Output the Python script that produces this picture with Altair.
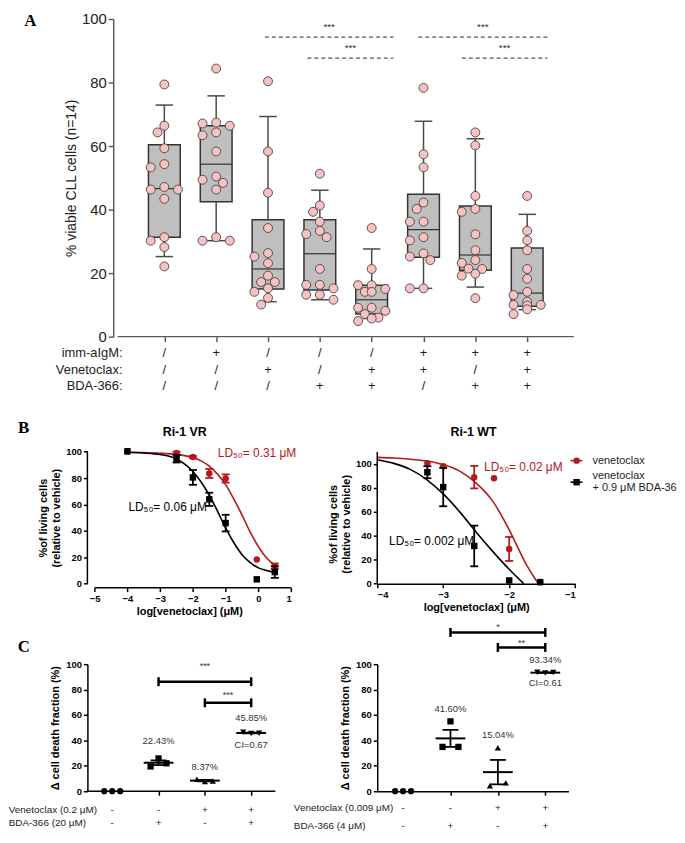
import altair as alt
import numpy as np
import pandas as pd

FONT = "Liberation Sans"
SERIF = "Liberation Serif"
RED = "#b3191e"
GREY = "#5a5a5a"
PINK = "#f9c2c2"

# ======================= DATA =======================
# ---- Panel A : % viable CLL cells (n=14) ----
A_groups = [1, 2, 3, 4, 5, 6, 7, 8]
A_values = [
    [79.4, 66.4, 64.3, 59.3, 54.3, 53.3, 47.1, 46.3, 46.3, 43.4, 31.3, 30.2, 28.2, 22.1],
    [84.4, 67.4, 67.1, 66.4, 64.3, 63.4, 58.3, 50.4, 49.4, 48.4, 46.3, 31.3, 30.2, 30.2],
    [80.4, 58.3, 45.3, 34.2, 26.3, 25.2, 23.1, 19.2, 17.2, 17.2, 15.2, 14.1, 12.2, 10.1],
    [51.3, 41.3, 39.3, 36.2, 33.3, 32.3, 31.3, 21.3, 16.3, 16.3, 15.2, 13.2, 13.2, 11.6],
    [34.2, 21.3, 16.2, 16.2, 15.0, 14.1, 14.1, 9.1, 9.1, 8.1, 7.1, 6.0, 5.7, 4.9],
    [78.3, 57.4, 53.3, 42.2, 40.2, 36.2, 36.2, 31.3, 30.3, 26.2, 25.2, 24.1, 15.2, 15.2],
    [64.3, 60.2, 44.3, 40.2, 39.3, 32.2, 27.2, 24.1, 23.2, 21.4, 21.3, 19.8, 19.2, 12.1],
    [44.3, 33.3, 30.3, 27.2, 21.3, 18.2, 14.1, 13.1, 11.0, 10.0, 10.0, 9.8, 8.6, 7.1],
]
A_q1 = [31.3, 42.5, 15.0, 14.7, 7.1, 25.0, 20.9, 9.6]
A_med = [46.6, 54.3, 21.3, 26.1, 11.6, 33.7, 25.7, 13.7]
A_q3 = [60.4, 66.4, 36.8, 36.8, 16.2, 44.8, 41.1, 27.9]
A_wlo = [25.2, 30.2, 11.0, 11.6, 5.7, 15.2, 15.6, 8.5]
A_whi = [72.9, 75.8, 69.3, 46.1, 27.6, 67.8, 62.3, 38.5]
A_imm = ["/", "+", "/", "/", "/", "+", "+", "+"]
A_ven = ["/", "/", "+", "/", "+", "+", "/", "+"]
A_bda = ["/", "/", "/", "+", "+", "/", "+", "+"]
A_rownames = ["imm-aIgM:", "Venetoclax:", "BDA-366:"]
A_row_y = [-5.2, -10.4, -15.7]
A_sig_x1 = [2.94, 3.76, 5.90, 6.74]
A_sig_x2 = [5.42, 5.42, 8.39, 8.39]
A_sig_y = [94.3, 87.7, 94.3, 87.7]
A_star_y = [97.5, 90.8, 97.5, 90.8]

# ---- Panel B : dose response ----
VR_x = [-4, -2.5, -2, -1.5, -1, -0.05, 0.5]
VR_red_y = [100.0, 99.0, 96.0, 83.5, 79.7, 18.3, 13.3]
VR_red_e = [0, 1.0, 0.8, 3.4, 3.1, 0, 2.0]
VR_blk_y = [100.3, 94.7, 80.5, 63.9, 45.9, 3.3, 8.8]
VR_blk_e = [0, 2.9, 5.6, 5.0, 6.3, 0, 4.4]
VR_red_cx = [-4, -3.5, -3, -2.5, -2, -1.75, -1.5, -1.25, -1, -0.75, -0.5, -0.25, 0, 0.25, 0.5]
VR_red_cy = [99.5, 99.3, 98.8, 97.8, 95.5, 93, 89, 83, 75, 64, 52, 39, 28, 19.5, 14]
VR_blk_cx = [-4, -3.5, -3, -2.5, -2.25, -2, -1.75, -1.5, -1.25, -1, -0.75, -0.5, -0.25, 0, 0.25, 0.5]
VR_blk_cy = [99.5, 99, 97.8, 94.5, 90.5, 85, 77, 67, 55, 42, 31, 22, 16, 12, 10, 8.5]

WT_red_x = [-3.24, -3.0, -2.53, -2.23, -2.0, -1.53]
WT_red_y = [100.6, 98.1, 89.0, 88.1, 29.0, 1.3]
WT_red_e = [0, 0, 9.4, 0, 10.0, 0]
WT_blk_x = [-3.24, -3.0, -2.53, -2.0, -1.53]
WT_blk_y = [93.1, 80.7, 31.5, 2.7, 1.3]
WT_blk_e = [5.0, 16.0, 17.0, 0, 0]
WT_red_cx = [-4, -3.75, -3.5, -3.25, -3, -2.75, -2.5, -2.25, -2, -1.75, -1.56]
WT_red_cy = [105.5, 105, 104, 102.5, 99.5, 94, 84, 69, 45, 17, 0]
WT_blk_cx = [-4, -3.75, -3.5, -3.25, -3, -2.75, -2.5, -2.25, -2, -1.78]
WT_blk_cy = [103.5, 100.5, 95.5, 87, 75, 60, 43, 27, 12, 0]

LD_text = ["LD\u2085\u2080= 0.31 \u03bcM", "LD\u2085\u2080= 0.06 \u03bcM",
           "LD\u2085\u2080= 0.02 \u03bcM", "LD\u2085\u2080= 0.002 \u03bcM"]
legend_text = ["venetoclax", "venetoclax", "+ 0.9 \u03bcM BDA-366"]

# ---- Panel C : delta cell death fraction ----
C_groups = [1, 2, 3, 4]
C_shapes = ["circle", "square", "triangle-up", "triangle-down"]
CL_vals = [[0, 0, 0], [19.5, 25.8, 22.0], [9.5, 7.6, 8.0], [46.4, 45.5, 45.65]]
CR_vals = [[0, 0, 0], [34.9, 55.0, 34.9], [4.3, 34.2, 6.6], [93.6, 93.0, 93.4]]
CL_lab_text = ["22.43%", "8.37%", "45.85%", "CI=0.67"]
CL_lab_x = [2, 3, 4, 4]
CL_lab_y = [39.7, 18.7, 57.6, 36.4]
CR_lab_text = ["41.60%", "15.04%", "93.34%", "CI=0.61"]
CR_lab_x = [2, 3, 4, 4]
CR_lab_y = [64.5, 44.2, 103.6, 85.2]
CL_sig = [(2, 4, 86.2, "***", 98.7), (3, 4, 69.6, "***", 75.9)]
CR_sig = [(2, 4, 125.0, "*", 129.0), (3, 4, 113.2, "**", 116.6)]
C_ven = ["-", "-", "+", "+"]
C_bda = ["-", "+", "-", "+"]
CL_rownames = ["Venetoclax (0.2 \u03bcM)", "BDA-366 (20 \u03bcM)"]
CL_row_y = [-15.0, -25.3]
CR_rownames = ["Venetoclax (0.009 \u03bcM)", "BDA-366 (4 \u03bcM)"]
CR_row_y = [-12.9, -27.0]


# ======================= HELPERS =======================
def swarm(vals, px_per_unit, step=7.0, diam=8.8):
    placed, offs = [], []
    for v in vals:
        yy = v * px_per_unit
        choice = 0.0
        for cand in (0.0, -step, step, -2 * step, 2 * step):
            if all((cand - ox) ** 2 + (yy - oy) ** 2 >= diam ** 2 for ox, oy in placed):
                choice = cand
                break
        placed.append((choice, yy))
        offs.append(choice)
    return offs


def txt(df, xs, ys, axx, axy, **mk):
    base = dict(font=FONT, fontSize=11, color="#222", align="center", baseline="middle")
    base.update(mk)
    return alt.Chart(df).mark_text(**base).encode(
        x=alt.X("x:Q", scale=xs, axis=axx), y=alt.Y("y:Q", scale=ys, axis=axy), text="t:N")


def hrule(df, xs, ys, axx, axy, **mk):
    return alt.Chart(df).mark_rule(**mk).encode(
        x=alt.X("x:Q", scale=xs, axis=axx), x2="x2:Q", y=alt.Y("y:Q", scale=ys, axis=axy))


def vrule(df, xs, ys, axx, axy, **mk):
    return alt.Chart(df).mark_rule(**mk).encode(
        x=alt.X("x:Q", scale=xs, axis=axx), y=alt.Y("y:Q", scale=ys, axis=axy), y2="y2:Q")


COL_W = 207          # declared width of every left-column panel
COL_GAP = 85

# ======================= PANEL A =======================
A_W, A_H = 495, 320   # drawn extent of panel A
A_SP = 53.3
A_X0 = 1 - 74 / A_SP
A_X1 = A_X0 + A_W / A_SP
A_PXU = A_H / 100.0
xsA = alt.Scale(domain=[A_X0, A_X1], range=[0, A_W], nice=False, zero=False)
ysA = alt.Scale(domain=[0, 100], nice=False, zero=False)
axA_x = alt.Axis(values=A_groups, labels=False, domain=False, ticks=True, tickSize=5,
                 tickColor=GREY, tickWidth=1.5, title=None, grid=False)
axA_y = alt.Axis(values=[0, 20, 40, 60, 80, 100], offset=-26, grid=False, domainColor=GREY,
                 domainWidth=1.5, tickColor=GREY, tickWidth=1.5, tickSize=5, labelFont=FONT,
                 labelFontSize=15, labelColor="#222", labelPadding=2,
                 title="% viable CLL cells (n=14)", titleFont=FONT, titleFontSize=14,
                 titleFontWeight="normal", titleColor="#222", titlePadding=3)

boxdf = pd.DataFrame({"x": A_groups, "q1": A_q1, "med": A_med, "q3": A_q3,
                      "lo": A_wlo, "hi": A_whi})
boxdf["ml"] = boxdf.x - 16 / A_SP
boxdf["mr"] = boxdf.x + 16 / A_SP
boxdf["cl"] = boxdf.x - 9 / A_SP
boxdf["cr"] = boxdf.x + 9 / A_SP

rows = []
for g, vals in zip(A_groups, A_values):
    for v, o in zip(vals, swarm(vals, A_PXU)):
        rows.append({"x": g + o / A_SP, "y": v})
ptsA = pd.DataFrame(rows)


def XA(f):
    return alt.X(f + ":Q", scale=xsA, axis=axA_x)


def YA(f):
    return alt.Y(f + ":Q", scale=ysA, axis=axA_y)


WH = "#4a4a4a"
A_layers = [
    alt.Chart(boxdf).mark_rule(color=WH, strokeWidth=1.5).encode(x=XA("x"), y=YA("q3"), y2="hi:Q"),
    alt.Chart(boxdf).mark_rule(color=WH, strokeWidth=1.5).encode(x=XA("x"), y=YA("lo"), y2="q1:Q"),
    alt.Chart(boxdf).mark_rule(color=WH, strokeWidth=1.5).encode(x=XA("cl"), x2="cr:Q", y=YA("hi")),
    alt.Chart(boxdf).mark_rule(color=WH, strokeWidth=1.5).encode(x=XA("cl"), x2="cr:Q", y=YA("lo")),
    alt.Chart(boxdf).mark_bar(size=32, fill="#bfbfbf", stroke="#333", strokeWidth=1.5).encode(
        x=XA("x"), y=YA("q1"), y2="q3:Q"),
    alt.Chart(boxdf).mark_rule(color="#333", strokeWidth=1.2).encode(x=XA("ml"), x2="mr:Q", y=YA("med")),
    alt.Chart(ptsA).mark_point(shape="circle", filled=False, fill=PINK, fillOpacity=1, stroke="#444",
                               strokeWidth=0.9, size=81, opacity=1).encode(x=XA("x"), y=YA("y")),
    hrule(pd.DataFrame({"x": [0.1], "x2": [A_X1], "y": [0]}), xsA, ysA, axA_x, axA_y,
          color=GREY, strokeWidth=1.5),
]
sigA = pd.DataFrame({"x": A_sig_x1, "x2": A_sig_x2, "y": A_sig_y})
A_layers.append(hrule(sigA, xsA, ysA, axA_x, axA_y, color="#555", strokeWidth=1.2, strokeDash=[4, 3]))
starA = pd.DataFrame({"x": [(a + b) / 2 for a, b in zip(A_sig_x1, A_sig_x2)], "y": A_star_y,
                      "t": ["***"] * 4})
A_layers.append(txt(starA, xsA, ysA, axA_x, axA_y, fontSize=10, color="#333"))
rowA = []
for yv, sy in zip(A_row_y, [A_imm, A_ven, A_bda]):
    for g, s in zip(A_groups, sy):
        rowA.append({"x": g, "y": yv, "t": s})
A_layers.append(txt(pd.DataFrame(rowA), xsA, ysA, axA_x, axA_y, fontSize=13))
A_layers.append(txt(pd.DataFrame({"x": [1 + (118 - 161) / A_SP] * 3, "y": A_row_y, "t": A_rownames}),
                    xsA, ysA, axA_x, axA_y, fontSize=13, align="right"))
A_layers.append(txt(pd.DataFrame({"x": [1 + (17 - 161) / A_SP], "y": [99.5], "t": ["A"]}),
                    xsA, ysA, axA_x, axA_y, font=SERIF, fontSize=17, fontWeight="bold",
                    align="left", color="black"))
A = alt.layer(*A_layers).properties(width=COL_W, height=A_H)

# ======================= PANEL B =======================
B_H = 168.4


def b_axes(values_x, x_off, yk, H, xdomain):
    axx = alt.Axis(values=values_x, domain=xdomain, domainColor="black", domainWidth=1.5,
                   offset=x_off, tickSize=4, tickColor="black", tickWidth=1.5,
                   labelFont=FONT, labelFontSize=9.5, labelFontWeight="bold", labelColor="black",
                   labelPadding=2, title="log[venetoclax] (\u03bcM)", titleFont=FONT,
                   titleFontSize=11, titleFontWeight="bold", titleColor="black", titlePadding=3,
                   grid=False)
    axy = alt.Axis(values=[0, 20, 40, 60, 80, 100], domain=False, tickSize=4, tickColor="black",
                   tickWidth=1.5, labelFont=FONT, labelFontSize=9.5, labelFontWeight="bold",
                   labelColor="black", labelPadding=2,
                   title=["%of living cells", "(relative to vehicle)"], titleFont=FONT,
                   titleFontSize=11, titleFontWeight="bold", titleColor="black", titlePadding=4,
                   titleY=H - 50 * yk, grid=False)
    return axx, axy


def series_layers(xs, ys, axx, axy, cx, cy, px, py, pe, color, shape, capw):
    cdf = pd.DataFrame({"x": cx, "y": cy})
    pdf = pd.DataFrame({"x": px, "y": py, "e": pe})
    pdf["lo"] = pdf.y - pdf.e
    pdf["hi"] = pdf.y + pdf.e
    pdf["xl"] = pdf.x - capw
    pdf["xr"] = pdf.x + capw
    edf = pdf[pdf.e > 0]
    X = lambda f: alt.X(f + ":Q", scale=xs, axis=axx)
    Y = lambda f: alt.Y(f + ":Q", scale=ys, axis=axy)
    return [
        alt.Chart(cdf).mark_line(color=color, strokeWidth=1.6, interpolate="monotone").encode(x=X("x"), y=Y("y")),
        alt.Chart(edf).mark_rule(color=color, strokeWidth=1.8).encode(x=X("x"), y=Y("lo"), y2="hi:Q"),
        alt.Chart(edf).mark_rule(color=color, strokeWidth=1.8).encode(x=X("xl"), x2="xr:Q", y=Y("hi")),
        alt.Chart(edf).mark_rule(color=color, strokeWidth=1.8).encode(x=X("xl"), x2="xr:Q", y=Y("lo")),
        alt.Chart(pdf).mark_point(shape=shape, filled=True, color=color, size=42, opacity=1).encode(
            x=X("x"), y=Y("y")),
    ]


# ---- B left : Ri-1 VR ----
BL_W = 205.3
BL_K = 33.0
BL_X0 = 1 - BL_W / BL_K
BL_YK = 1.33
xsBL = alt.Scale(domain=[BL_X0, 1], nice=False, zero=False)
ysBL = alt.Scale(domain=[0, B_H / BL_YK], nice=False, zero=False)
axBLx, axBLy = b_axes([-5, -4, -3, -2, -1, 0, 1], 4, BL_YK, B_H, False)
BL_layers = []
BL_layers += series_layers(xsBL, ysBL, axBLx, axBLy, VR_red_cx, VR_red_cy, VR_x, VR_red_y, VR_red_e,
                           RED, "circle", 4 / BL_K)
BL_layers += series_layers(xsBL, ysBL, axBLx, axBLy, VR_blk_cx, VR_blk_cy, VR_x, VR_blk_y, VR_blk_e,
                           "black", "square", 4 / BL_K)
BL_layers.append(vrule(pd.DataFrame({"x": [BL_X0], "y": [0], "y2": [100]}), xsBL, ysBL, axBLx, axBLy,
                       color="black", strokeWidth=1.5))
BL_layers.append(hrule(pd.DataFrame({"x": [-5], "x2": [1], "y": [-4 / BL_YK]}), xsBL, ysBL, axBLx, axBLy,
                       color="black", strokeWidth=1.5))
BL_layers.append(txt(pd.DataFrame({"x": [-1.24], "y": [99.0], "t": [LD_text[0]]}), xsBL, ysBL, axBLx, axBLy,
                     fontSize=12, align="left", color=RED))
BL_layers.append(txt(pd.DataFrame({"x": [-3.97], "y": [57.9], "t": [LD_text[1]]}), xsBL, ysBL, axBLx, axBLy,
                     fontSize=12, align="left", color="black"))
BL_layers.append(txt(pd.DataFrame({"x": [-2.25], "y": [114.8], "t": ["Ri-1 VR"]}), xsBL, ysBL, axBLx, axBLy,
                     fontSize=12.5, fontWeight="bold", color="black"))
BL_layers.append(txt(pd.DataFrame({"x": [-7.34], "y": [117.8], "t": ["B"]}), xsBL, ysBL, axBLx, axBLy,
                     font=SERIF, fontSize=17, fontWeight="bold", align="left", color="black"))
BL = alt.layer(*BL_layers).properties(width=BL_W, height=B_H)

# ---- B right : Ri-1 WT ----
BR_W = 199.4
BR_YK = 1.206
xsBR = alt.Scale(domain=[-4, -1], nice=False, zero=False)
ysBR = alt.Scale(domain=[0, B_H / BR_YK], nice=False, zero=False)
axBRx, axBRy = b_axes([-4, -3, -2, -1], 0, BR_YK, B_H, True)
BR_layers = []
BR_layers += series_layers(xsBR, ysBR, axBRx, axBRy, WT_red_cx, WT_red_cy, WT_red_x, WT_red_y, WT_red_e,
                           RED, "circle", 4 / 66.4)
BR_layers += series_layers(xsBR, ysBR, axBRx, axBRy, WT_blk_cx, WT_blk_cy, WT_blk_x, WT_blk_y, WT_blk_e,
                           "black", "square", 4 / 66.4)
BR_layers.append(vrule(pd.DataFrame({"x": [-4], "y": [0], "y2": [110]}), xsBR, ysBR, axBRx, axBRy,
                       color="black", strokeWidth=1.5))
BR_layers.append(txt(pd.DataFrame({"x": [-2.38], "y": [97.3], "t": [LD_text[2]]}), xsBR, ysBR, axBRx, axBRy,
                     fontSize=12, align="left", color=RED))
BR_layers.append(txt(pd.DataFrame({"x": [-3.82], "y": [35.9], "t": [LD_text[3]]}), xsBR, ysBR, axBRx, axBRy,
                     fontSize=12, align="left", color="black"))
BR_layers.append(txt(pd.DataFrame({"x": [-2.54], "y": [126.3], "t": ["Ri-1 WT"]}), xsBR, ysBR, axBRx, axBRy,
                     fontSize=12.5, fontWeight="bold", color="black"))
BR_layers.append(hrule(pd.DataFrame({"x": [-1.07], "x2": [-0.89], "y": [102.8]}), xsBR, ysBR, axBRx, axBRy,
                       color=RED, strokeWidth=1.6))
BR_layers.append(hrule(pd.DataFrame({"x": [-1.07], "x2": [-0.89], "y": [84.8]}), xsBR, ysBR, axBRx, axBRy,
                       color="black", strokeWidth=1.6))
BR_layers.append(alt.Chart(pd.DataFrame({"x": [-0.978], "y": [102.8]})).mark_point(
    shape="circle", filled=True, color=RED, size=42, opacity=1).encode(
    x=alt.X("x:Q", scale=xsBR, axis=axBRx), y=alt.Y("y:Q", scale=ysBR, axis=axBRy)))
BR_layers.append(alt.Chart(pd.DataFrame({"x": [-0.978], "y": [84.8]})).mark_point(
    shape="square", filled=True, color="black", size=42, opacity=1).encode(
    x=alt.X("x:Q", scale=xsBR, axis=axBRx), y=alt.Y("y:Q", scale=ysBR, axis=axBRy)))
BR_layers.append(txt(pd.DataFrame({"x": [-0.737] * 3, "y": [102.8, 89.8, 80.1], "t": legend_text}),
                     xsBR, ysBR, axBRx, axBRy, fontSize=11, align="left", color="#222",
                     limit=89, ellipsis="\u200b"))
BR = alt.layer(*BR_layers).properties(width=BR_W, height=B_H)

# ======================= PANEL C =======================
C_H = 128


def c_panel(W, SP, X0, X1, vals, lab_text, lab_x, lab_y, sig, rownames, row_y, name_x,
            axis_end, x_domain, letter=None):
    xs = alt.Scale(domain=[X0, X1], nice=False, zero=False)
    ys = alt.Scale(domain=[0, 100], nice=False, zero=False)
    pxu = C_H / 100.0
    axx = alt.Axis(values=[2, 3, 4], labels=False, domain=x_domain, domainColor="black",
                   domainWidth=1.5, tickSize=4, tickColor="black", tickWidth=1.5, title=None, grid=False)
    axy = alt.Axis(values=[0, 20, 40, 60, 80, 100], domain=True, domainColor="black", domainWidth=1.5,
                   tickSize=4, tickColor="black", tickWidth=1.5, labelFont=FONT, labelFontSize=9.5,
                   labelFontWeight="bold", labelColor="black", labelPadding=2,
                   title="\u0394 cell death fraction (%)", titleFont=FONT, titleFontSize=11,
                   titleFontWeight="bold", titleColor="black", titlePadding=5, grid=False)
    X = lambda f: alt.X(f + ":Q", scale=xs, axis=axx)
    Y = lambda f: alt.Y(f + ":Q", scale=ys, axis=axy)
    prow, srow = [], []
    for g, shp, vv in zip(C_groups, C_shapes, vals):
        for i, v in enumerate(vv):
            prow.append({"x": g + (i - 1) * 8 / SP, "y": v, "shp": shp})
        if g > 1:
            m = float(np.mean(vv))
            s = float(np.std(vv, ddof=1) / np.sqrt(len(vv)))
            srow.append({"x": g, "m": m, "lo": m - s, "hi": m + s,
                         "ml": g - 15 / SP, "mr": g + 15 / SP, "cl": g - 8 / SP, "cr": g + 8 / SP})
    pdf = pd.DataFrame(prow)
    sdf = pd.DataFrame(srow)
    layers = [
        alt.Chart(sdf).mark_rule(color="black", strokeWidth=1.8).encode(x=X("x"), y=Y("lo"), y2="hi:Q"),
        alt.Chart(sdf).mark_rule(color="black", strokeWidth=1.8).encode(x=X("cl"), x2="cr:Q", y=Y("hi")),
        alt.Chart(sdf).mark_rule(color="black", strokeWidth=1.8).encode(x=X("cl"), x2="cr:Q", y=Y("lo")),
        alt.Chart(pdf).mark_point(filled=True, color="black", size=40, opacity=1).encode(
            x=X("x"), y=Y("y"), shape=alt.Shape("shp:N", scale=None)),
        alt.Chart(sdf).mark_rule(color="black", strokeWidth=2).encode(x=X("ml"), x2="mr:Q", y=Y("m")),
    ]
    if axis_end is not None:
        layers.append(hrule(pd.DataFrame({"x": [X0], "x2": [axis_end], "y": [0]}), xs, ys, axx, axy,
                            color="black", strokeWidth=1.5))
    layers.append(txt(pd.DataFrame({"x": lab_x, "y": lab_y, "t": lab_text}), xs, ys, axx, axy,
                      fontSize=9.5, color="#333"))
    bars, caps, stars = [], [], []
    for x1, x2, yb, st, ys_ in sig:
        bars.append({"x": x1, "x2": x2, "y": yb})
        caps.append({"x": x1, "y": yb - 4.5 / pxu, "y2": yb + 4.5 / pxu})
        caps.append({"x": x2, "y": yb - 4.5 / pxu, "y2": yb + 4.5 / pxu})
        stars.append({"x": (x1 + x2) / 2, "y": ys_, "t": st})
    layers.append(hrule(pd.DataFrame(bars), xs, ys, axx, axy, color="black", strokeWidth=2.5))
    layers.append(vrule(pd.DataFrame(caps), xs, ys, axx, axy, color="black", strokeWidth=2.5))
    layers.append(txt(pd.DataFrame(stars), xs, ys, axx, axy, fontSize=9, color="#333"))
    rr = []
    for yv, sy in zip(row_y, [C_ven, C_bda]):
        for g, s in zip(C_groups, sy):
            rr.append({"x": g, "y": yv, "t": s})
    layers.append(txt(pd.DataFrame(rr), xs, ys, axx, axy, fontSize=10))
    layers.append(txt(pd.DataFrame({"x": [name_x] * 2, "y": row_y, "t": rownames}), xs, ys, axx, axy,
                      fontSize=10, align="left"))
    if letter is not None:
        layers.append(txt(pd.DataFrame({"x": [letter[0]], "y": [letter[1]], "t": [letter[2]]}), xs, ys,
                          axx, axy, font=SERIF, fontSize=17, fontWeight="bold", align="left",
                          color="black"))
    return alt.layer(*layers).properties(width=W, height=C_H)


CL_SP = 46.67
CL_X0 = 1 - 25 / CL_SP
CL_X1 = CL_X0 + COL_W / CL_SP
CL = c_panel(COL_W, CL_SP, CL_X0, CL_X1, CL_vals, CL_lab_text, CL_lab_x, CL_lab_y, CL_sig,
             CL_rownames, CL_row_y, 1 + (8 - 112.3) / CL_SP, 4.523, False,
             letter=(1 + (17 - 112.3) / CL_SP, 113.5, "C"))

CR_W, CR_SP = 192.7, 47.77
CR_X0 = 1 - 26 / CR_SP
CR_X1 = CR_X0 + CR_W / CR_SP
CR = c_panel(CR_W, CR_SP, CR_X0, CR_X1, CR_vals, CR_lab_text, CR_lab_x, CR_lab_y, CR_sig,
             CR_rownames, CR_row_y, 1 + (296 - 406) / CR_SP, None, True)

spacer = alt.Chart(pd.DataFrame({"v": [0]})).mark_point(opacity=0).encode(
    x=alt.X("v:Q", axis=None), y=alt.Y("v:Q", axis=None)).properties(width=1, height=1)

chart = alt.concat(A, spacer, BL, BR, CL, CR, columns=2,
                   spacing={"row": 80.5, "column": COL_GAP}, bounds="flush",
                   align="each").properties(
    padding={"left": 0, "top": 0, "right": 0, "bottom": 0}
).configure_view(stroke=None).configure_axis(grid=False)

chart.save("out.html", embed_options={"renderer": "svg", "actions": False})
